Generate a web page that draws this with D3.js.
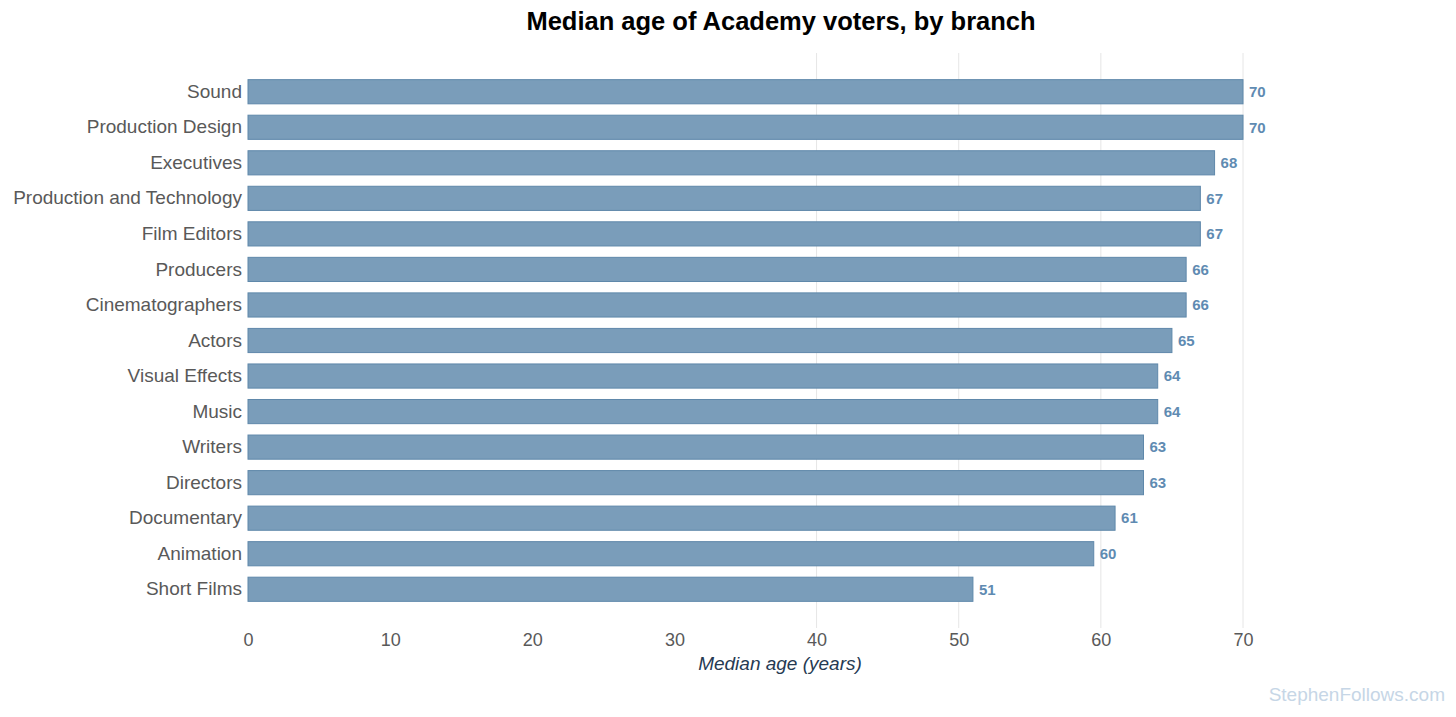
<!DOCTYPE html>
<html>
<head>
<meta charset="utf-8">
<script src="https://cdn.jsdelivr.net/npm/d3@7"></script>
<style>
  body { margin: 0; background: #fff; }
  svg { display: block; font-family: "Liberation Sans", Arial, sans-serif; }
</style>
</head>
<body>
<div id="chart"></div>
<script>
// data
const branches = ["Sound", "Production Design", "Executives", "Production and Technology",
  "Film Editors", "Producers", "Cinematographers", "Actors", "Visual Effects", "Music",
  "Writers", "Directors", "Documentary", "Animation", "Short Films"];
const medianAges = [70, 70, 68, 67, 67, 66, 66, 65, 64, 64, 63, 63, 61, 59.5, 51];
const xTicks = [0, 10, 20, 30, 40, 50, 60, 70];
const gridTicks = [40, 50, 60, 70];

const width = 1456, height = 717;
const margin = {top: 53, right: 213, bottom: 89, left: 248};

const svg = d3.select("#chart").append("svg")
  .attr("width", width)
  .attr("height", height);

const x = d3.scaleLinear()
  .domain([0, 70])
  .range([margin.left, width - margin.right]);

const y = d3.scaleBand()
  .domain(branches)
  .range([margin.top, height - margin.bottom])
  .paddingInner(0.32)
  .paddingOuter(0.75);

// gridlines (only the right-hand ones show in the original)
svg.append("g")
  .selectAll("line")
  .data(gridTicks)
  .join("line")
    .attr("x1", d => x(d))
    .attr("x2", d => x(d))
    .attr("y1", margin.top)
    .attr("y2", height - margin.bottom)
    .attr("stroke", "#e6e6e6")
    .attr("stroke-width", 1);

// bars
svg.append("g")
  .selectAll("rect")
  .data(branches)
  .join("rect")
    .attr("x", x(0))
    .attr("y", d => y(d))
    .attr("width", (d, i) => x(medianAges[i]) - x(0))
    .attr("height", y.bandwidth())
    .attr("fill", "#7a9dba")
    .attr("stroke", "#5f88aa")
    .attr("stroke-width", 1);

// value labels
svg.append("g")
  .selectAll("text")
  .data(branches)
  .join("text")
    .attr("x", (d, i) => x(medianAges[i]) + 6)
    .attr("y", d => y(d) + y.bandwidth() / 2)
    .attr("dy", "0.35em")
    .style("font-size", "15px")
    .style("font-weight", "bold")
    .style("fill", "#5f8bb2")
    .text((d, i) => Math.round(medianAges[i]));

// category axis
const yAxis = svg.append("g")
  .attr("transform", `translate(${margin.left},0)`)
  .call(d3.axisLeft(y).tickSize(0).tickPadding(6));
yAxis.select(".domain").remove();
yAxis.selectAll("text")
  .style("font-size", "19px")
  .style("fill", "#595959")
  .style("font-family", "'Liberation Sans', Arial, sans-serif");

// value axis
const xAxis = svg.append("g")
  .attr("transform", `translate(0,${height - margin.bottom})`)
  .call(d3.axisBottom(x).tickValues(xTicks).tickSize(0).tickPadding(5));
xAxis.select(".domain").remove();
xAxis.selectAll("text")
  .style("font-size", "18px")
  .style("fill", "#595959")
  .style("font-family", "'Liberation Sans', Arial, sans-serif");

// axis title
svg.append("text")
  .attr("x", 780)
  .attr("y", 670)
  .attr("text-anchor", "middle")
  .style("font-size", "19px")
  .style("font-style", "italic")
  .style("fill", "#263a52")
  .text("Median age (years)");

// title
svg.append("text")
  .attr("x", 781)
  .attr("y", 30)
  .attr("text-anchor", "middle")
  .style("font-size", "25.5px")
  .style("font-weight", "bold")
  .style("fill", "#000")
  .text("Median age of Academy voters, by branch");

// watermark
svg.append("text")
  .attr("x", 1445)
  .attr("y", 701)
  .attr("text-anchor", "end")
  .style("font-size", "19px")
  .style("fill", "#c6d6e6")
  .text("StephenFollows.com");
</script>
</body>
</html>
